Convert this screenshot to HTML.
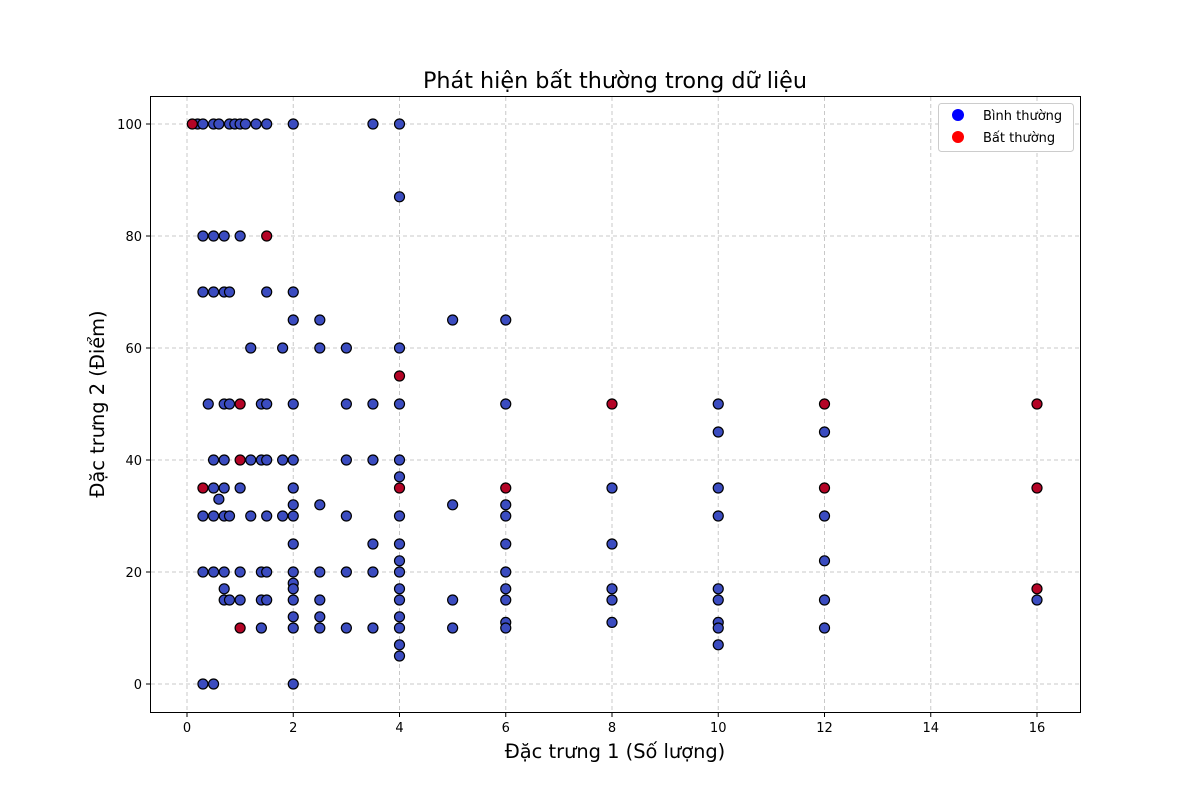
<!DOCTYPE html>
<html><head><meta charset="utf-8"><style>
body{margin:0;background:#fff;font-family:"Liberation Sans","DejaVu Sans",sans-serif}
text{font-family:"DejaVu Sans","Liberation Sans",sans-serif}
</style></head><body>
<svg id="chart" width="1200" height="800" xmlns="http://www.w3.org/2000/svg">
<rect width="1200" height="800" fill="#fff"/>
<g id="grid"></g>
<g id="pts"></g>
<rect x="150.5" y="96.5" width="930" height="616" fill="none" stroke="#000" stroke-width="1"/>
<g id="ticks"></g>
<text x="615" y="88" text-anchor="middle" font-size="22.3">Phát hiện bất thường trong dữ liệu</text>
<text x="615" y="758" text-anchor="middle" font-size="19.4">Đặc trưng 1 (Số lượng)</text>
<text transform="translate(104,404) rotate(-90)" text-anchor="middle" font-size="19.4">Đặc trưng 2 (Điểm)</text>
<g>
<rect x="938.5" y="103.5" width="135" height="48" rx="3" fill="#fff" stroke="#ccc"/>
<circle cx="958" cy="115" r="6" fill="#0000ff"/>
<text x="983" y="120" font-size="13">Bình thường</text>
<circle cx="958" cy="137" r="6" fill="#ff0000"/>
<text x="983" y="142" font-size="13">Bất thường</text>
</g>
</svg>
<script>
const xTicks=[0,2,4,6,8,10,12,14,16];
const yTicks=[0,20,40,60,80,100];
const normalX=[0.2,0.3,0.5,0.6,0.8,0.9,1.0,1.1,1.3,1.5,2,3.5,4, 4, 0.3,0.5,0.7,1.0, 0.3,0.5,0.7,0.8,1.5,2, 2,2.5, 1.2,1.8,2.5,3,4,
0.4,0.7,0.8,1.4,1.5,2,3,3.5,4, 0.5,0.7,1.2,1.4,1.5,1.8,2,3,3.5,4, 4, 0.5,0.7,1.0,2, 0.6, 2,2.5,
0.3,0.5,0.7,0.8,1.2,1.5,1.8,2,3,4, 2,3.5,4, 4, 0.3,0.5,0.7,1.0,1.4,1.5,2,2.5,3,3.5,4, 2, 2,0.7,4,
0.7,0.8,1.0,1.4,1.5,2,2.5,4, 2,2.5,4, 1.4,2,2.5,3,3.5,4, 4,4, 0.3,0.5,2,
5,5,5,5, 6,6,6,6,6,6,6,6,6,6, 8,8,8,8,8, 10,10,10,10,10,10,10,10,10, 12,12,12,12,12, 16];
const normalY=[100,100,100,100,100,100,100,100,100,100,100,100,100, 87, 80,80,80,80, 70,70,70,70,70,70, 65,65, 60,60,60,60,60,
50,50,50,50,50,50,50,50,50, 40,40,40,40,40,40,40,40,40,40, 37, 35,35,35,35, 33, 32,32,
30,30,30,30,30,30,30,30,30,30, 25,25,25, 22, 20,20,20,20,20,20,20,20,20,20,20, 18, 17,17,17,
15,15,15,15,15,15,15,15, 12,12,12, 10,10,10,10,10,10, 7,5, 0,0,0,
65,32,15,10, 65,50,32,30,25,20,17,15,11,10, 35,25,17,15,11, 50,45,35,30,17,15,11,10,7, 45,30,22,15,10, 15];
const anomX=[0.1,1.5,4,1.0,1.0,0.3,4,1.0,6,8,12,12,16,16,16];
const anomY=[100,80,55,50,40,35,35,10,35,50,50,35,50,35,17];
const NS='http://www.w3.org/2000/svg';
const sx=v=>187+v*53.125, sy=v=>684-v*5.6;
const grid=document.getElementById('grid'), tk=document.getElementById('ticks'), pts=document.getElementById('pts');
function mk(tag,attrs,parent){const e=document.createElementNS(NS,tag);for(const k in attrs)e.setAttribute(k,attrs[k]);parent.appendChild(e);return e;}
xTicks.forEach(t=>{const x=sx(t);
 const l=mk('line',{x1:x,x2:x,y1:97,y2:712,stroke:'#b0b0b0','stroke-dasharray':'4,3','stroke-opacity':0.7},grid);
 
 
 mk('line',{x1:x,x2:x,y1:713,y2:717,stroke:'#000'},tk);
 const tx=mk('text',{x:x,y:732,'text-anchor':'middle','font-size':13},tk);tx.textContent=t;
 
 });
yTicks.forEach(t=>{const y=sy(t);
 const l=mk('line',{x1:151,x2:1080,y1:y,y2:y,stroke:'#b0b0b0','stroke-dasharray':'4,3','stroke-opacity':0.7},grid);
 
 
 mk('line',{x1:146,x2:150,y1:y,y2:y,stroke:'#000'},tk);
 const tx=mk('text',{x:142,y:y+5,'text-anchor':'end','font-size':13},tk);tx.textContent=t;
 
 });
normalX.forEach((v,i)=>{const c=mk('circle',{cx:sx(v),cy:sy(normalY[i]),r:5,fill:'#3b4cc0',stroke:'#000','stroke-width':1.2},pts);
 
 });
anomX.forEach((v,i)=>{const c=mk('circle',{cx:sx(v),cy:sy(anomY[i]),r:5,fill:'#b40426',stroke:'#000','stroke-width':1.2},pts);
 
 });
</script>
</body></html>
